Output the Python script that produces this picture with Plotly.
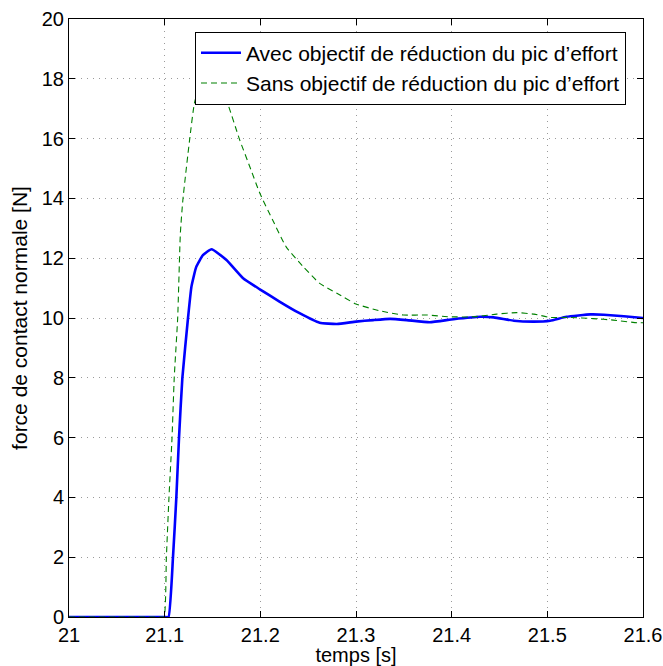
import plotly.graph_objects as go

# Blue: avec objectif
t_avec = [21.0, 21.05, 21.1, 21.104, 21.1087, 21.1122, 21.115, 21.1185, 21.1244, 21.128, 21.133, 21.140, 21.149,
          21.1646, 21.182, 21.1995, 21.22, 21.241, 21.262, 21.28, 21.3, 21.318, 21.3356, 21.353,
          21.377, 21.402, 21.43, 21.444, 21.465, 21.486, 21.503, 21.52, 21.545, 21.559, 21.58, 21.6]
f_avec = [0.0, 0.0, 0.0, 0.0, 2.0, 4.0, 6.0, 8.0, 10.0, 11.05, 11.71, 12.1, 12.3,
          11.94, 11.33, 10.96, 10.55, 10.16, 9.84, 9.8, 9.88, 9.93, 9.97, 9.93,
          9.86, 9.96, 10.04, 10.02, 9.91, 9.88, 9.91, 10.04, 10.12, 10.11, 10.06, 10.0]

# Green: sans objectif
t_sans = [21.0, 21.05, 21.096, 21.0993, 21.1018, 21.1045, 21.1077, 21.110, 21.1136, 21.1164, 21.119, 21.126, 21.131,
          21.136, 21.142, 21.148, 21.153, 21.157, 21.1646, 21.1785, 21.189, 21.1995, 21.213, 21.227,
          21.245, 21.262, 21.28, 21.3, 21.325, 21.3495, 21.374, 21.398, 21.423, 21.447, 21.468,
          21.486, 21.503, 21.524, 21.548, 21.569, 21.594, 21.6]
f_sans = [0.0, 0.0, 0.0, 0.0, 2.0, 4.0, 6.0, 8.0, 10.0, 12.83, 13.94, 15.94, 17.17,
          17.73, 18.15, 18.3, 18.1, 17.73, 17.28, 15.95, 15.06, 14.17, 13.27, 12.38,
          11.71, 11.16, 10.83, 10.47, 10.24, 10.1, 10.1, 10.04, 10.04, 10.13, 10.18,
          10.13, 10.02, 10.02, 9.98, 9.93, 9.84, 9.84]

x_ticks = [21, 21.1, 21.2, 21.3, 21.4, 21.5, 21.6]
x_tick_labels = ["21", "21.1", "21.2", "21.3", "21.4", "21.5", "21.6"]
y_ticks = [0, 2, 4, 6, 8, 10, 12, 14, 16, 18, 20]

FONT = "Liberation Sans, Arial, Helvetica, sans-serif"

fig = go.Figure()
fig.add_trace(go.Scatter(x=t_avec, y=f_avec, mode="lines",
                         line=dict(color="#0000ff", width=2.6, shape="spline", smoothing=0.4),
                         name="Avec objectif de réduction du pic d’effort"))
fig.add_trace(go.Scatter(x=t_sans, y=f_sans, mode="lines",
                         line=dict(color="#008000", width=1.1, dash="6px,4px", shape="spline", smoothing=0.5),
                         name="Sans objectif de réduction du pic d’effort"))

axis_common = dict(showline=True, linecolor="black", linewidth=1, mirror="ticks",
                   ticks="inside", ticklen=6, tickcolor="black", automargin=False,
                   showgrid=True, gridcolor="#9a9a9a", griddash="1px,5px", gridwidth=1,
                   zeroline=False, tickfont=dict(size=20, color="black", family=FONT))

fig.update_layout(
    width=663, height=666,
    margin=dict(l=69, r=20, t=19, b=49),
    paper_bgcolor="white", plot_bgcolor="white",
    font=dict(family=FONT, color="black", size=20),
    xaxis=dict(range=[21, 21.6], tickvals=x_ticks, ticktext=x_tick_labels,
               title=dict(text="temps [s]", font=dict(size=20), standoff=2), **axis_common),
    yaxis=dict(range=[0, 20], tickvals=y_ticks,
               title=dict(text="force de contact normale [N]", font=dict(size=21), standoff=8), **axis_common),
    legend=dict(x=0.2195, y=0.979, xanchor="left", yanchor="top", bgcolor="white",
                bordercolor="black", borderwidth=1, font=dict(size=21, family=FONT),
                itemwidth=40, tracegroupgap=0),
    showlegend=True,
)

fig.write_html("out.html", config={"displayModeBar": False},
               post_script="document.body.style.margin='0';document.body.style.overflow='hidden';")
